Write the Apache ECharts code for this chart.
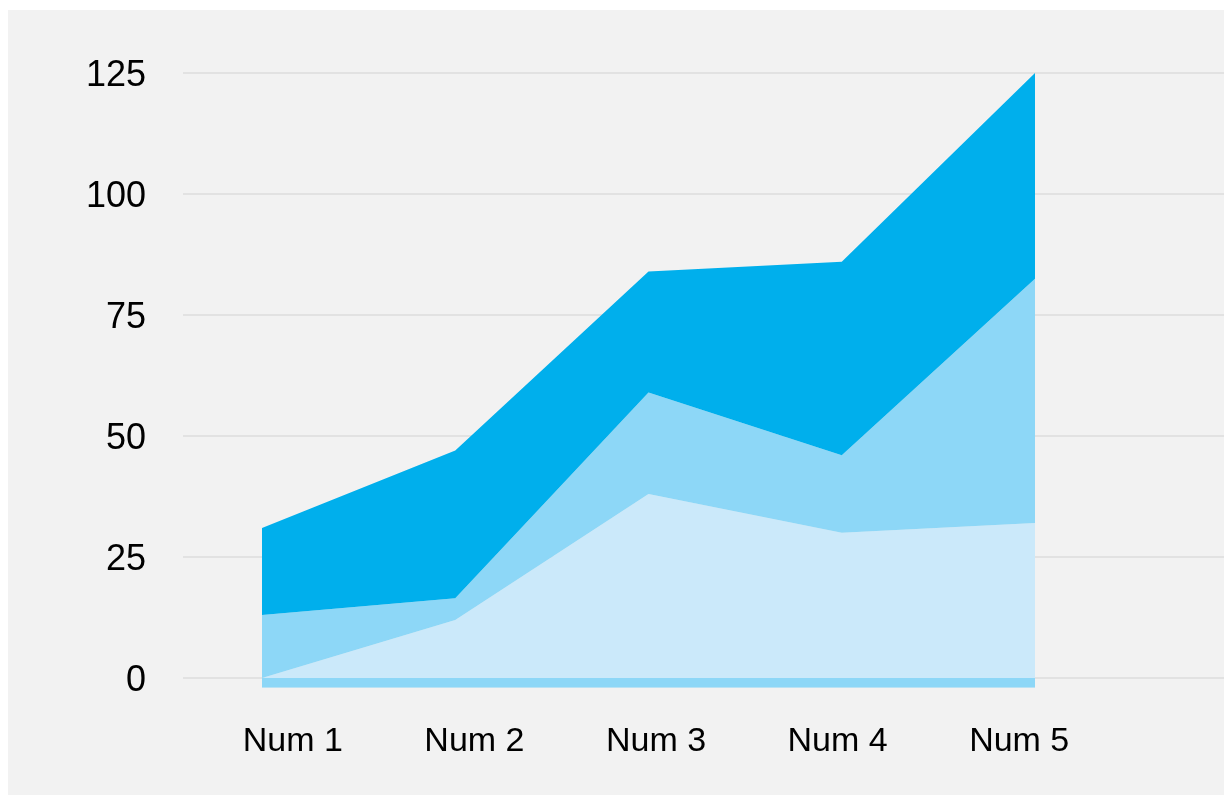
<!DOCTYPE html>
<html>
<head>
<meta charset="utf-8">
<script src="https://cdn.jsdelivr.net/npm/echarts@6/dist/echarts.min.js"></script>
<style>
  html, body { margin: 0; padding: 0; background: #fff; }
  #main { width: 1224px; height: 795px; }
</style>
</head>
<body>
<div id="main"></div>
<script>
// categories and values
var categories = ['Num 1', 'Num 2', 'Num 3', 'Num 4', 'Num 5'];
var yTicks = [0, 25, 50, 75, 100, 125];
var seriesA = [0, 12, 38, 30, 32];          // bottom layer
var seriesB = [13, 4.5, 21, 16, 50.5];      // middle layer
var seriesC = [18, 30.5, 25, 40, 42.5];     // top layer
var baseBand = [-2, -2, -2, -2, -2];        // strip under zero

var font = 'Helvetica, "Liberation Sans", Arial, sans-serif';

var myChart = echarts.init(document.getElementById('main'));

function areaSeries(name, data, color) {
  return {
    name: name,
    type: 'line',
    stack: 'total',
    xAxisIndex: 1,
    yAxisIndex: 1,
    data: data,
    showSymbol: false,
    lineStyle: { width: 0 },
    areaStyle: { color: color, opacity: 1 },
    itemStyle: { color: color },
    emphasis: { disabled: true }
  };
}

var option = {
  backgroundColor: '#ffffff',
  animation: false,
  graphic: [{
    type: 'rect',
    z: -10,
    silent: true,
    shape: { x: 8, y: 10, width: 1216, height: 785 },
    style: { fill: '#f2f2f2' }
  }],
  grid: [
    { left: 183, right: 0, top: 73, bottom: 117 },
    { left: 262, right: 189, top: 73, bottom: 107.32 },
    { left: 202, right: 114, top: 73, bottom: 117 }
  ],
  xAxis: [
    { gridIndex: 0, type: 'category', data: categories, show: false },
    { gridIndex: 1, type: 'category', data: categories, boundaryGap: false, show: false },
    {
      gridIndex: 2, type: 'category', data: categories, boundaryGap: true,
      axisLine: { show: false }, axisTick: { show: false },
      axisLabel: { color: '#000', fontSize: 34, fontFamily: font, margin: 47 }
    }
  ],
  yAxis: [
    {
      gridIndex: 0, type: 'value', min: yTicks[0], max: yTicks[yTicks.length - 1], interval: 25,
      axisLine: { show: false }, axisTick: { show: false },
      axisLabel: {
        margin: 37,
        formatter: '{v|{value}}',
        rich: { v: { color: '#000', fontSize: 36, fontFamily: font, padding: [7, 0, 0, 0] } }
      },
      splitLine: { lineStyle: { color: '#e2e2e2', width: 2 } }
    },
    { gridIndex: 1, type: 'value', min: -2, max: 125, show: false, splitLine: { show: false } },
    { gridIndex: 2, type: 'value', min: 0, max: 125, show: false, splitLine: { show: false } }
  ],
  series: [
    {
      name: 'base',
      type: 'line',
      xAxisIndex: 1,
      yAxisIndex: 1,
      data: baseBand,
      showSymbol: false,
      lineStyle: { width: 0 },
      areaStyle: { color: '#8dd7f7', opacity: 1 },
      emphasis: { disabled: true }
    },
    areaSeries('A', seriesA, '#cbe9fa'),
    areaSeries('B', seriesB, '#8dd7f7'),
    areaSeries('C', seriesC, '#00afec')
  ]
};
myChart.setOption(option);
</script>
</body>
</html>
